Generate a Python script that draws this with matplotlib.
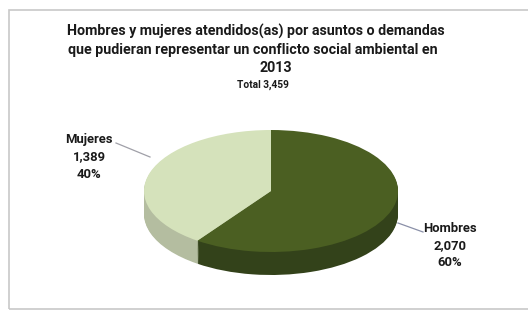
import matplotlib
matplotlib.use("Agg")
import matplotlib.pyplot as plt
from matplotlib.patches import Rectangle

categories = ["Hombres", "Mujeres"]
values = [2070, 1389]
percent_labels = ["60%", "40%"]
value_labels = ["2,070", "1,389"]
title_lines = ["Hombres y mujeres atendidos(as) por asuntos o demandas",
               "que pudieran representar un conflicto social ambiental en",
               "2013"]
subtitle = "Total 3,459"

top_colors = ["#4b5f22", "#d5e2bb"]
side_colors = ["#33421a", "#b4bda0"]

W, H = 528, 312
fig = plt.figure(figsize=(W / 100, H / 100), dpi=100)
fig.patch.set_facecolor("white")
fig.patches.append(Rectangle((9 / W, 1 - 309 / H), 1.2, (309 - 10) / H,
                             transform=fig.transFigure, fill=False,
                             edgecolor="#c8c8c8", linewidth=1.2))

# pie geometry in pixels
cx, cy = 271, 191
rx, ry = 127, 61
depth = 23
xl = 1.25
y_top, y_bot = 1.25, -1.75
ax_w = 2 * xl * rx
ax_h = (y_top - y_bot) * ry
left = cx - xl * rx
top = cy - y_top * ry
ax = fig.add_axes([left / W, 1 - (top + ax_h) / H, ax_w / W, ax_h / H])

d = depth / ry
n = 24
for i in range(n, 0, -1):
    ax.pie(values, startangle=90, counterclock=False, colors=side_colors,
           center=(0, -d * i / n), radius=1.0,
           wedgeprops=dict(linewidth=0))
ax.pie(values, startangle=90, counterclock=False, colors=top_colors,
       center=(0, 0), radius=1.0, wedgeprops=dict(linewidth=0))
ax.set_aspect("auto")
ax.set_xlim(-xl, xl)
ax.set_ylim(y_bot, y_top)
ax.axis("off")

fam = ["Roboto", "DejaVu Sans"]
title_pos = [(256, 31), (253, 50), (276, 68)]
for s, (x, y) in zip(title_lines, title_pos):
    fig.text(x / W, 1 - y / H, s, ha="center", va="center",
             fontsize=10.3, fontweight="bold", family=fam, color="#1a1a1a")
fig.text(263 / W, 1 - 85 / H, subtitle, ha="center", va="center", fontsize=7.3,
         fontweight="bold", family=fam, color="#1a1a1a")

# data labels (line centres in pixels)
lab_pos = {"Hombres": (450, 228), "Mujeres": (89, 139)}
for cat, v, p in zip(categories, value_labels, percent_labels):
    x, y = lab_pos[cat]
    for k, s in enumerate([cat, v, p]):
        fig.text(x / W, 1 - (y + 17.5 * k) / H, s, ha="center", va="center",
                 fontsize=9.4, fontweight="bold", family=fam, color="#1a1a1a")

# leader lines
fig.add_artist(plt.Line2D([116 / W, 150 / W], [1 - 143 / H, 1 - 157 / H],
                          color="#a0a0a8", linewidth=0.9))
fig.add_artist(plt.Line2D([398 / W, 423 / W], [1 - 223 / H, 1 - 232 / H],
                          color="#8a90a8", linewidth=0.9))

fig.savefig("out.png", dpi=100)
